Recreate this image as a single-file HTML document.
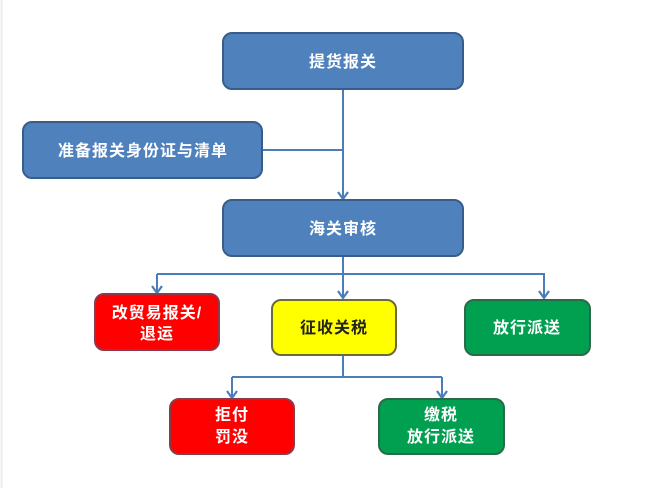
<!DOCTYPE html>
<html><head><meta charset="utf-8"><style>
html,body{margin:0;padding:0;background:#fff;}
svg{display:block;}
text{font-family:"Liberation Sans","Noto Sans CJK SC",sans-serif;font-weight:bold;font-size:16px;text-anchor:middle;letter-spacing:1px;}
</style></head><body>
<svg width="658" height="488" viewBox="0 0 658 488" xmlns="http://www.w3.org/2000/svg">
<defs><marker id="a" markerWidth="12" markerHeight="12" refX="10" refY="6" orient="auto" markerUnits="userSpaceOnUse" viewBox="0 0 12 12"><path d="M3,1 L10,6 L3,11" fill="none" stroke="#4a7ebb" stroke-width="2.2"/></marker></defs>
<line x1="1.5" y1="0" x2="1.5" y2="488" stroke="#ececec" stroke-width="2"/>
<g stroke="#4a7ebb" stroke-width="2" fill="none">
<line x1="343" y1="89" x2="343" y2="199" marker-end="url(#a)"/>
<line x1="262" y1="150" x2="343" y2="150"/>
<line x1="343" y1="256" x2="343" y2="298" marker-end="url(#a)"/>
<polyline points="157,274 544,274 544,298" marker-end="url(#a)"/>
<line x1="157" y1="274" x2="157" y2="293" marker-end="url(#a)"/>
<line x1="343" y1="355" x2="343" y2="377"/>
<line x1="232" y1="377" x2="442" y2="377"/>
<line x1="232" y1="377" x2="232" y2="398" marker-end="url(#a)"/>
<line x1="442" y1="377" x2="442" y2="398" marker-end="url(#a)"/>
</g>
<g stroke-width="2">
<rect x="223" y="33" width="240" height="56" rx="9" fill="#4f81bd" stroke="#385d8a"/>
<rect x="23" y="122" width="239" height="56" rx="9" fill="#4f81bd" stroke="#385d8a"/>
<rect x="223" y="200" width="240" height="56" rx="9" fill="#4f81bd" stroke="#385d8a"/>
<rect x="95" y="294" width="124" height="56" rx="9" fill="#ff0000" stroke="#8c3a4a"/>
<rect x="272" y="300" width="124" height="55" rx="9" fill="#ffff00" stroke="#6a6a3a"/>
<rect x="465" y="300" width="125" height="55" rx="9" fill="#00a050" stroke="#2a6a4a"/>
<rect x="170" y="399" width="124" height="55" rx="9" fill="#ff0000" stroke="#8c3a4a"/>
<rect x="379" y="399" width="125" height="55" rx="9" fill="#00a050" stroke="#2a6a4a"/>
</g>
<g fill="#fff">
<text x="343" y="67">提货报关</text>
<text x="143" y="156">准备报关身份证与清单</text>
<text x="343" y="234">海关审核</text>
<text x="157" y="318">改贸易报关/</text>
<text x="157" y="339">退运</text>
<text x="527" y="333">放行派送</text>
<text x="232" y="420">拒付</text>
<text x="232" y="442">罚没</text>
<text x="441" y="420">缴税</text>
<text x="441" y="442">放行派送</text>
</g>
<text x="334" y="333" fill="#222">征收关税</text>
</svg>
</body></html>
